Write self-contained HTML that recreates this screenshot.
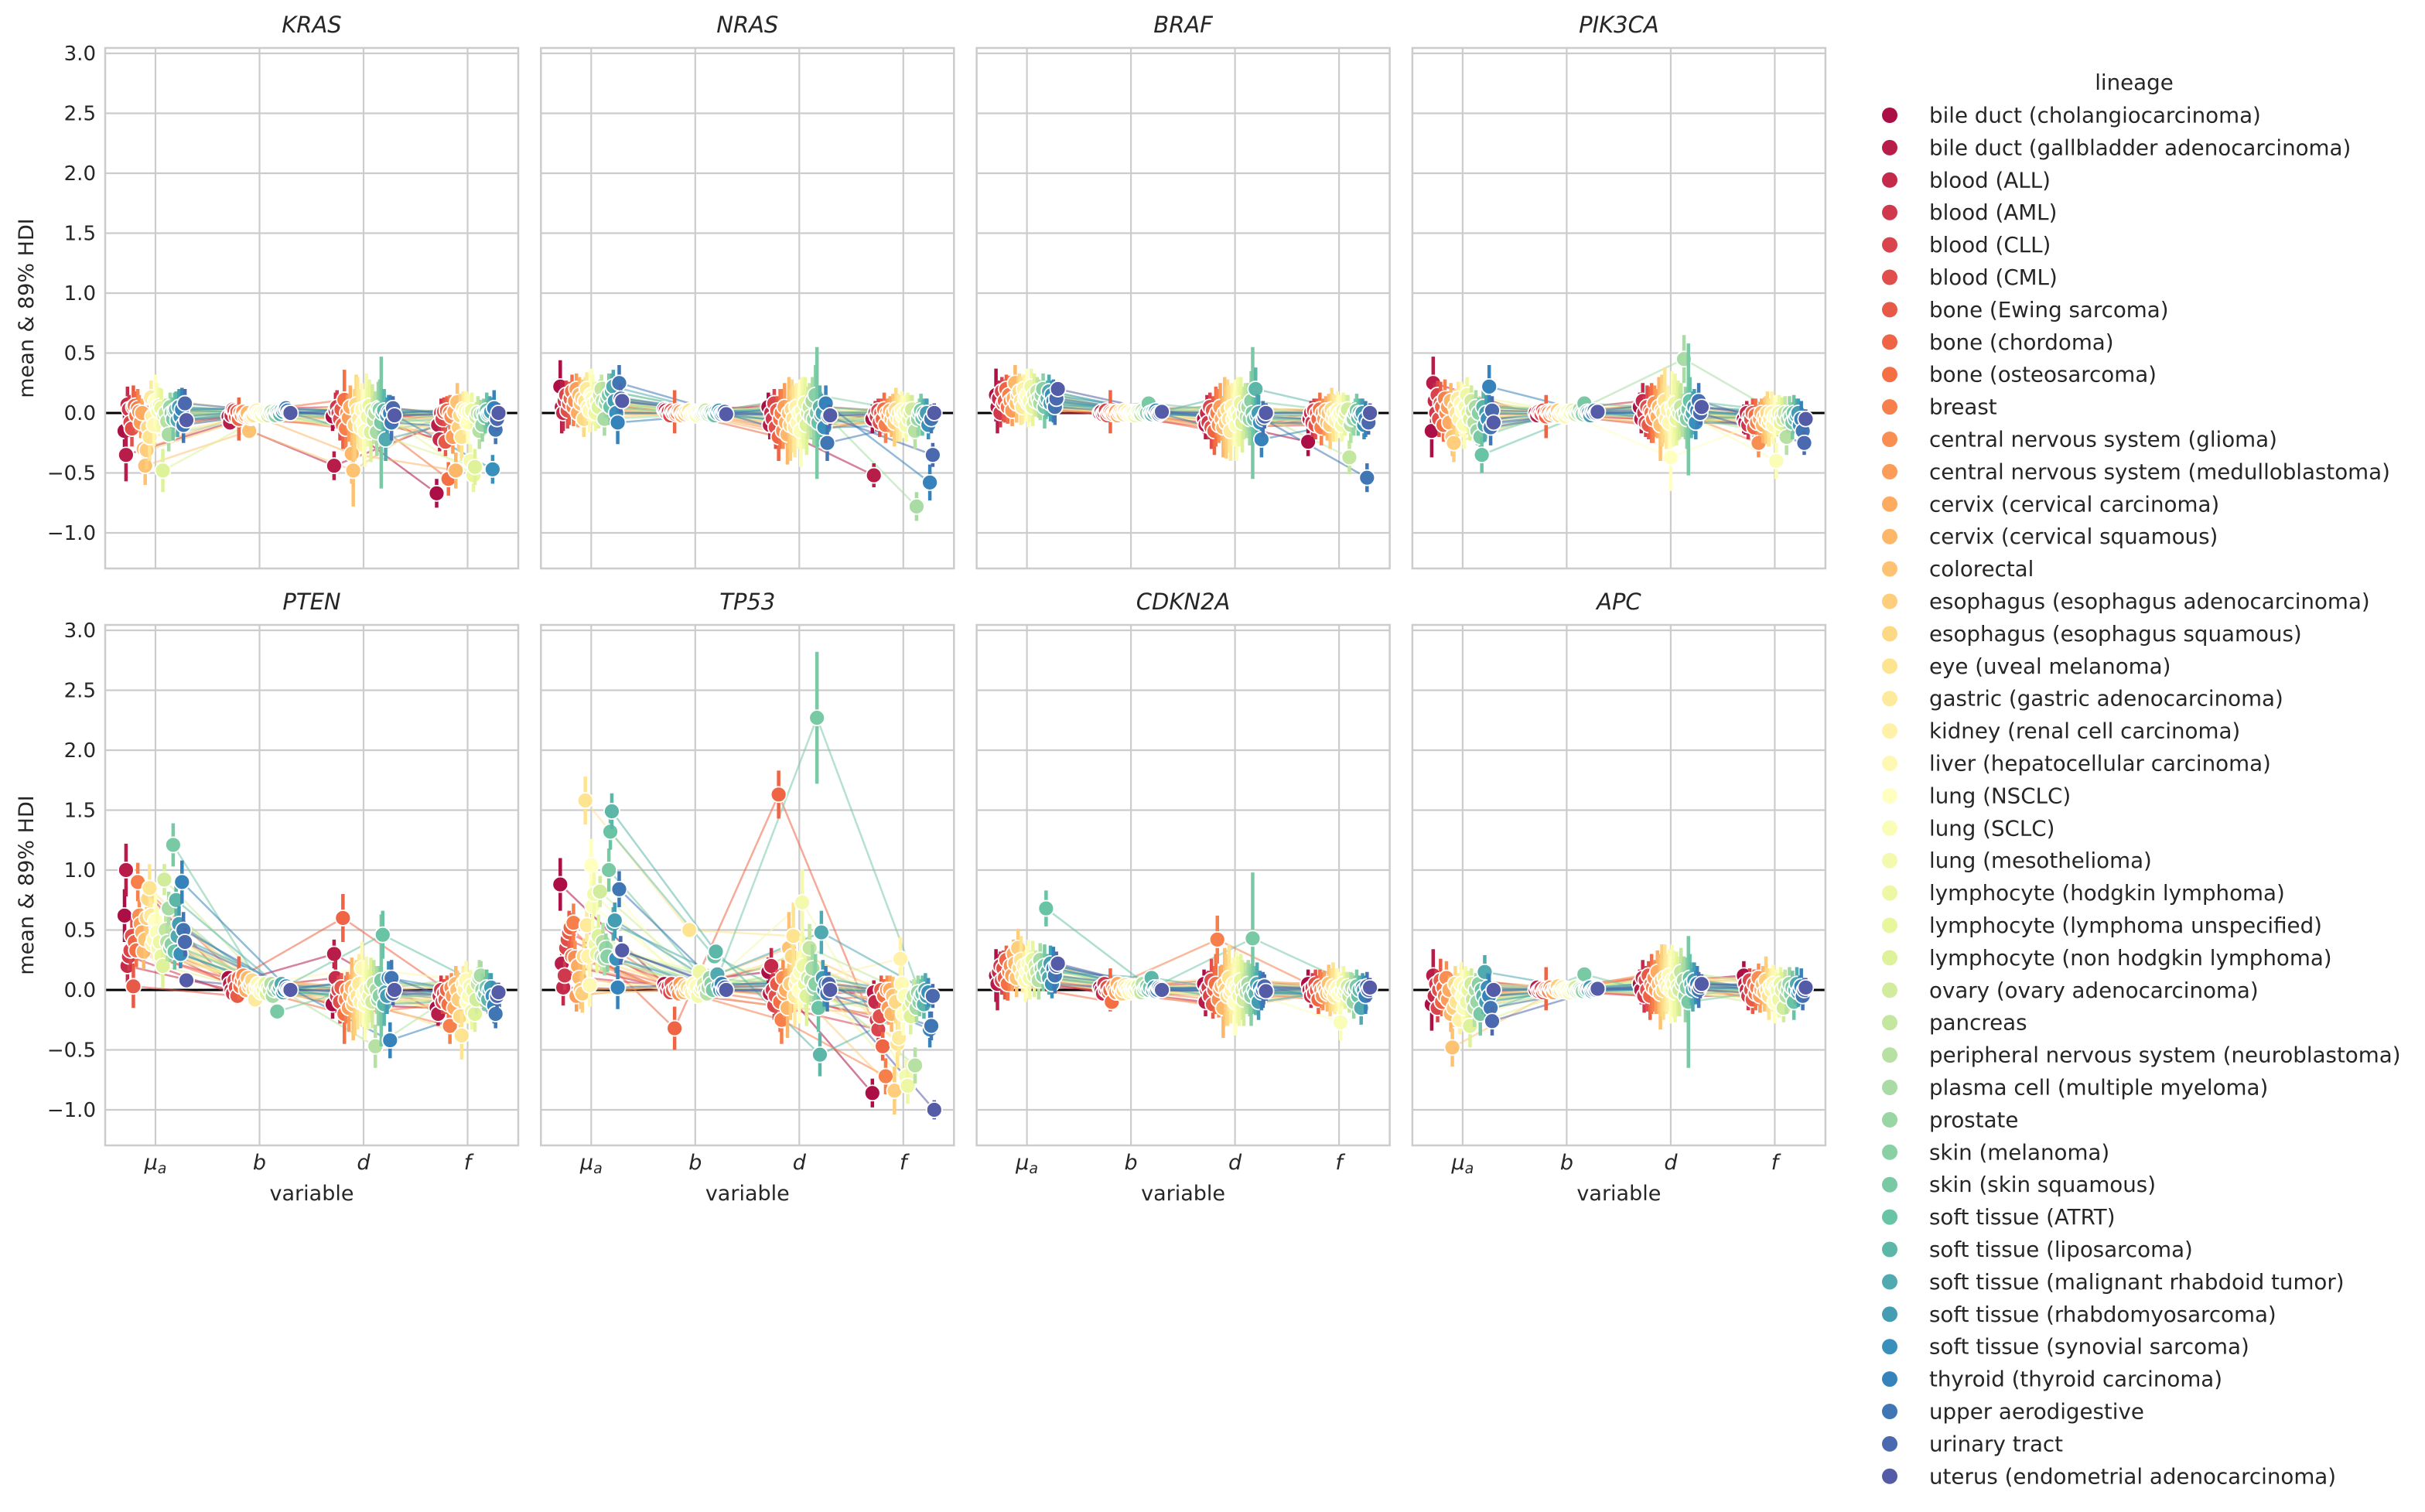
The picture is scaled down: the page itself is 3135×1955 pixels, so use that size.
<!DOCTYPE html>
<html><head><meta charset="utf-8">
<style>
html,body{margin:0;padding:0;background:#fff;}
svg{display:block;font-family:"DejaVu Sans","Liberation Sans",sans-serif;}
</style></head>
<body>
<svg id="chart" width="3135" height="1955" viewBox="0 0 3135 1955" xmlns="http://www.w3.org/2000/svg">
<rect x="0" y="0" width="3135" height="1955" fill="#ffffff"/>
<g id="panels"></g>
<g id="legend"></g>
</svg>
<script>
const genes = ["KRAS","NRAS","BRAF","PIK3CA","PTEN","TP53","CDKN2A","APC"];
const variables = ["mu_a","b","d","f"];
const yTicks = [-1.0,-0.5,0.0,0.5,1.0,1.5,2.0,2.5,3.0];
const yTickLabels = ["\u22121.0","\u22120.5","0.0","0.5","1.0","1.5","2.0","2.5","3.0"];
const lineages = ["bile duct (cholangiocarcinoma)","bile duct (gallbladder adenocarcinoma)","blood (ALL)","blood (AML)","blood (CLL)","blood (CML)","bone (Ewing sarcoma)","bone (chordoma)","bone (osteosarcoma)","breast","central nervous system (glioma)","central nervous system (medulloblastoma)","cervix (cervical carcinoma)","cervix (cervical squamous)","colorectal","esophagus (esophagus adenocarcinoma)","esophagus (esophagus squamous)","eye (uveal melanoma)","gastric (gastric adenocarcinoma)","kidney (renal cell carcinoma)","liver (hepatocellular carcinoma)","lung (NSCLC)","lung (SCLC)","lung (mesothelioma)","lymphocyte (hodgkin lymphoma)","lymphocyte (lymphoma unspecified)","lymphocyte (non hodgkin lymphoma)","ovary (ovary adenocarcinoma)","pancreas","peripheral nervous system (neuroblastoma)","plasma cell (multiple myeloma)","prostate","skin (melanoma)","skin (skin squamous)","soft tissue (ATRT)","soft tissue (liposarcoma)","soft tissue (malignant rhabdoid tumor)","soft tissue (rhabdomyosarcoma)","soft tissue (synovial sarcoma)","thyroid (thyroid carcinoma)","upper aerodigestive","urinary tract","uterus (endometrial adenocarcinoma)"];

const KRAS_mu=[-0.15,-0.35,0.07,0.03,-0.08,-0.13,0.05,0.06,-0.02,0.04,0.01,-0.08,0.00,-0.30,-0.44,-0.31,-0.12,-0.20,0.13,-0.03,-0.10,0.10,0.05,0.02,0.06,0.04,-0.48,-0.02,0.00,-0.07,-0.18,0.05,0.00,-0.05,0.02,0.03,-0.06,0.05,-0.03,0.03,-0.10,0.08,-0.06];
const KRAS_b=[-0.03,-0.08,-0.02,0.03,0.02,-0.03,0.01,-0.05,0.00,-0.02,0.01,-0.03,-0.02,0.00,-0.15,-0.04,-0.03,-0.02,0.01,0.02,0.00,-0.01,0.00,-0.02,0.01,0.00,-0.01,-0.02,0.00,0.01,-0.01,0.00,-0.02,0.01,0.00,-0.01,0.02,0.01,0.03,0.04,0.02,0.00,0.00];
const KRAS_d=[-0.03,-0.44,0.02,0.05,0.00,-0.05,0.03,-0.10,0.11,-0.13,0.00,-0.04,0.05,-0.34,-0.48,-0.10,0.07,0.02,-0.05,-0.12,0.03,-0.08,-0.15,0.05,-0.03,0.06,-0.16,0.02,-0.06,0.00,-0.16,0.04,0.03,-0.08,0.00,0.02,-0.22,-0.02,0.01,0.00,-0.08,0.04,-0.02];
const KRAS_f=[-0.67,-0.10,-0.22,0.00,-0.05,0.01,-0.24,0.02,-0.55,0.00,-0.03,-0.20,0.01,-0.48,0.09,-0.12,-0.02,-0.20,0.03,0.00,0.02,-0.08,0.01,-0.40,0.02,-0.52,-0.45,-0.03,0.00,-0.15,-0.01,-0.10,0.00,-0.03,0.02,-0.01,0.00,0.01,-0.47,0.04,-0.14,-0.05,0.00];

const NRAS_mu=[0.22,0.05,0.00,0.10,0.15,0.02,0.08,0.12,0.18,0.05,0.10,0.20,0.00,0.15,0.08,0.12,-0.05,0.10,0.20,0.05,0.02,0.15,0.12,0.08,0.00,0.10,0.05,0.15,0.20,0.10,-0.05,0.08,0.12,0.15,0.05,0.18,0.22,0.10,0.00,-0.08,0.25,0.12,0.10];
const NRAS_b=[0.03,0.02,0.00,0.01,-0.02,0.02,0.00,0.01,-0.01,0.00,0.02,0.01,-0.02,0.00,-0.01,0.01,0.00,0.02,-0.01,0.00,0.01,0.00,-0.02,0.01,0.00,-0.01,0.00,0.01,0.02,0.00,-0.01,0.00,0.01,0.00,-0.02,0.01,0.00,0.02,0.00,-0.01,0.00,0.01,-0.01];
const NRAS_d=[0.05,-0.10,0.00,-0.05,0.08,-0.12,0.02,-0.20,-0.05,0.00,-0.15,0.05,-0.08,-0.18,0.00,-0.10,0.03,-0.05,-0.12,0.05,-0.08,0.00,-0.15,0.02,-0.05,0.08,-0.10,0.00,0.05,-0.03,0.10,-0.05,0.15,0.00,-0.08,0.05,-0.02,0.00,-0.12,0.08,-0.25,-0.03,-0.02];
const NRAS_f=[-0.05,-0.52,0.00,-0.03,0.02,-0.08,0.00,-0.05,0.03,-0.10,0.00,-0.02,0.02,-0.05,0.00,-0.08,0.03,-0.04,0.00,-0.06,0.02,-0.03,0.00,-0.10,0.02,-0.05,0.00,0.03,-0.08,-0.15,-0.78,-0.05,0.00,0.02,-0.04,0.00,-0.02,0.00,-0.10,-0.58,-0.05,-0.35,0.00];

const BRAF_mu=[0.15,0.05,0.12,0.00,0.18,0.08,0.10,0.20,0.05,0.15,0.10,0.02,0.12,0.25,0.08,0.15,0.18,0.10,0.05,0.20,0.12,0.15,0.08,0.10,0.22,0.05,0.15,0.10,0.18,0.12,0.08,0.15,0.20,0.05,0.10,0.12,0.18,0.08,0.15,0.10,0.05,0.12,0.20];
const BRAF_b=[0.00,0.01,-0.01,0.00,0.02,-0.02,0.00,0.01,0.00,-0.01,0.00,0.01,-0.02,0.00,0.01,0.00,-0.01,0.02,0.00,0.01,-0.01,0.00,0.01,0.00,-0.02,0.00,0.01,0.00,-0.01,0.02,0.00,0.01,0.00,0.08,0.00,-0.01,0.01,0.00,0.02,0.00,-0.01,0.00,0.01];
const BRAF_d=[-0.05,-0.10,0.00,-0.08,0.05,-0.12,0.02,-0.15,-0.03,0.00,-0.10,0.05,-0.05,-0.12,0.00,-0.08,0.03,-0.05,-0.15,0.05,-0.05,0.00,-0.10,0.02,-0.03,0.08,-0.08,0.00,0.05,-0.03,0.05,-0.05,0.10,0.00,-0.05,0.20,-0.02,0.00,-0.08,-0.22,-0.05,-0.03,0.00];
const BRAF_f=[-0.24,-0.05,0.00,-0.08,0.02,-0.10,0.00,-0.05,0.03,-0.12,0.00,-0.05,0.02,-0.08,0.00,-0.10,0.03,-0.04,0.00,-0.06,0.02,-0.03,0.00,-0.10,0.02,-0.05,0.00,0.03,-0.37,-0.10,-0.05,-0.05,0.00,0.02,-0.04,0.00,-0.02,0.00,-0.10,-0.05,-0.54,-0.08,0.00];

const PIK3CA_mu=[-0.15,0.25,0.10,0.00,0.15,-0.05,0.08,0.05,-0.10,0.12,0.00,0.05,-0.08,0.10,-0.20,-0.25,0.05,0.00,0.12,-0.05,0.08,0.02,-0.10,0.05,0.15,0.00,-0.05,0.10,0.02,-0.08,0.05,-0.15,0.00,-0.20,-0.35,0.05,-0.10,0.00,-0.05,0.22,-0.12,0.02,-0.08];
const PIK3CA_b=[0.00,-0.02,0.01,0.00,-0.01,0.02,0.00,-0.03,0.01,0.00,-0.02,0.00,0.01,-0.01,0.00,0.02,-0.02,0.00,0.01,0.00,-0.03,0.00,0.01,-0.01,0.00,0.02,0.00,-0.01,0.01,0.00,0.03,0.00,-0.01,0.08,0.00,0.01,0.00,-0.02,0.01,0.00,0.02,0.00,0.01];
const PIK3CA_d=[0.05,-0.05,0.10,0.00,-0.08,0.05,-0.10,0.02,0.00,-0.05,0.08,0.00,-0.03,0.05,-0.10,0.02,0.00,0.10,-0.05,0.03,-0.08,-0.37,0.05,0.00,0.08,-0.05,0.02,0.00,0.05,-0.02,0.45,0.00,-0.05,0.03,0.10,-0.03,0.00,0.05,-0.08,0.02,0.10,0.00,0.05];
const PIK3CA_f=[-0.05,-0.08,0.00,-0.10,-0.03,-0.05,0.00,-0.12,-0.02,-0.08,-0.25,-0.05,0.00,-0.10,-0.03,-0.06,0.00,-0.08,-0.05,0.00,-0.10,-0.03,-0.40,-0.05,0.00,-0.08,-0.02,-0.05,0.00,-0.20,-0.05,0.00,-0.03,-0.08,0.00,-0.05,-0.02,0.00,-0.10,-0.05,-0.15,-0.25,-0.05];

const PTEN_mu=[0.62,1.00,0.20,0.28,0.33,0.45,0.03,0.40,0.33,0.90,0.62,0.55,0.48,0.32,0.42,0.60,0.76,0.85,0.62,0.38,0.42,0.58,0.48,0.35,0.40,0.28,0.20,0.92,0.50,0.40,0.68,0.35,0.38,1.21,0.32,0.75,0.45,0.55,0.30,0.90,0.50,0.40,0.08];
const PTEN_b=[0.10,0.05,0.00,-0.03,0.08,0.02,-0.05,0.10,0.03,0.08,0.12,0.05,0.00,0.10,0.03,0.05,0.08,0.00,-0.08,0.02,0.05,0.00,-0.02,0.03,0.00,0.05,-0.03,0.02,0.00,0.05,-0.05,0.00,0.03,-0.18,0.00,0.02,0.05,-0.02,0.00,0.03,0.01,0.00,0.00];
const PTEN_d=[-0.12,0.30,0.10,-0.05,0.00,-0.10,0.02,0.60,-0.20,-0.08,0.00,-0.15,-0.05,0.02,-0.12,-0.08,0.00,-0.05,0.05,-0.10,0.18,-0.03,-0.12,0.00,-0.08,-0.05,0.02,-0.10,0.05,-0.47,0.00,-0.08,-0.05,0.08,0.46,-0.12,-0.02,-0.05,0.10,-0.42,0.10,-0.03,0.00];
const PTEN_f=[-0.15,-0.20,-0.05,0.00,-0.10,-0.03,-0.08,0.00,-0.12,-0.30,0.02,-0.05,-0.15,0.05,0.00,-0.08,-0.22,-0.38,0.05,0.00,0.08,-0.10,-0.05,0.03,-0.18,0.00,-0.20,-0.08,0.05,0.10,0.12,0.00,-0.05,-0.03,0.02,-0.08,0.00,0.02,-0.05,-0.13,-0.20,-0.05,-0.02];

const TP53_mu=[0.88,0.22,0.02,0.12,0.35,0.42,0.48,0.52,0.28,0.56,0.27,-0.05,0.20,0.10,0.00,-0.03,0.28,1.58,0.54,0.28,0.04,1.04,0.70,0.80,0.38,0.30,0.45,0.82,0.28,0.40,0.26,0.35,0.28,1.00,1.32,1.49,0.55,0.58,0.26,0.02,0.84,0.33,0.33];
const TP53_b=[0.05,0.02,0.00,0.03,-0.02,0.05,0.00,-0.32,0.02,0.00,-0.03,0.05,0.00,-0.02,0.03,0.00,0.02,0.50,0.00,-0.02,0.05,0.00,0.03,-0.05,0.15,0.00,0.02,0.05,0.00,-0.03,0.02,0.10,0.05,0.00,0.28,0.32,0.13,0.03,0.00,0.05,0.00,0.02,0.00];
const TP53_d=[0.15,-0.03,0.20,0.00,-0.13,-0.05,0.05,1.63,-0.10,-0.25,0.10,-0.03,0.00,-0.15,0.35,0.05,0.28,0.45,-0.05,0.05,0.10,0.00,0.15,0.73,0.20,0.05,-0.05,0.10,0.35,0.08,0.18,0.02,0.05,2.27,-0.15,-0.54,0.48,0.10,0.00,0.05,-0.03,0.05,0.00];
const TP53_f=[-0.86,-0.02,-0.10,-0.25,-0.33,-0.22,0.00,-0.47,-0.05,-0.72,0.00,-0.15,0.00,-0.20,-0.05,-0.84,-0.10,-0.45,-0.40,0.26,0.05,-0.20,-0.05,-0.72,-0.80,-0.15,-0.22,-0.10,-0.05,-0.63,-0.15,-0.02,-0.10,-0.05,-0.03,-0.12,0.00,-0.05,-0.02,-0.33,-0.30,-0.05,-1.00];

const CDKN2A_mu=[0.12,0.05,0.15,0.20,0.08,0.18,0.10,0.25,0.05,0.15,0.20,0.12,0.30,0.22,0.10,0.35,0.18,0.25,0.12,0.20,0.08,0.15,0.22,0.10,0.18,0.25,0.12,0.20,0.15,0.08,0.25,0.18,0.12,0.20,0.68,0.15,0.10,0.22,0.05,0.18,0.12,0.20,0.22];
const CDKN2A_b=[0.02,0.00,-0.03,0.05,0.00,0.02,-0.02,0.00,-0.10,0.03,0.00,-0.02,0.05,0.00,0.02,-0.03,0.00,0.04,0.02,0.00,-0.02,0.03,0.00,0.02,-0.01,0.00,0.03,0.00,-0.02,0.05,0.00,0.02,0.03,0.00,0.02,0.10,0.00,0.02,-0.01,0.00,0.02,0.01,0.00];
const CDKN2A_d=[0.05,-0.10,0.00,0.02,-0.05,0.08,-0.12,0.00,0.05,0.42,-0.08,0.00,0.03,-0.15,0.05,0.00,-0.05,0.10,-0.03,0.00,0.05,-0.10,0.02,0.00,-0.05,0.08,0.00,-0.08,0.03,-0.02,0.05,0.00,-0.05,0.43,0.00,-0.03,0.05,-0.10,0.02,-0.02,0.00,0.03,-0.01];
const CDKN2A_f=[0.05,0.00,-0.05,0.02,-0.03,0.05,0.00,-0.08,0.03,0.00,-0.05,0.02,0.00,-0.03,0.05,-0.02,0.00,0.03,-0.05,0.00,0.02,-0.03,-0.27,0.00,0.05,-0.02,0.00,0.03,-0.05,0.00,0.02,-0.10,0.00,0.03,-0.05,0.00,-0.15,0.02,0.00,-0.05,0.03,0.00,0.02];

const APC_mu=[-0.12,0.12,-0.05,0.05,-0.15,0.00,0.08,-0.10,0.02,-0.05,0.10,-0.08,0.00,-0.20,-0.48,-0.15,0.05,-0.10,0.00,-0.25,0.05,-0.05,-0.15,0.02,-0.10,0.00,-0.30,0.05,-0.08,-0.15,0.00,-0.10,0.05,-0.20,0.00,-0.05,0.15,-0.10,0.02,-0.05,-0.15,-0.26,0.00];
const APC_b=[0.00,0.02,-0.01,0.00,0.01,-0.02,0.00,0.01,0.00,-0.01,0.02,0.00,-0.02,0.01,0.00,0.03,-0.01,0.00,0.02,0.00,-0.01,0.01,0.00,-0.02,0.00,0.01,0.00,0.02,-0.01,0.00,0.01,0.00,-0.01,0.13,0.00,0.01,0.00,0.02,-0.01,0.00,0.01,0.00,0.01];
const APC_d=[0.05,0.00,0.10,-0.05,0.08,0.00,0.12,-0.05,0.05,0.02,0.10,0.00,0.15,0.05,-0.03,0.08,0.00,0.10,0.05,0.02,0.12,0.00,0.08,0.05,-0.02,0.10,0.03,0.00,0.15,0.05,0.08,-0.05,0.02,-0.10,0.10,0.05,0.00,0.08,0.02,0.05,0.00,0.03,0.05];
const APC_f=[0.12,0.05,0.00,-0.05,0.08,0.00,-0.08,0.05,-0.03,0.02,0.10,-0.05,0.00,0.05,-0.02,0.08,0.00,-0.05,0.03,0.00,0.05,-0.10,0.02,0.00,-0.08,0.05,0.00,-0.15,0.03,-0.05,0.00,0.05,-0.03,0.02,-0.10,0.00,0.05,-0.02,0.00,0.03,-0.05,0.00,0.02];

const errMu=[0.22,0.22,0.15,0.12,0.12,0.15,0.18,0.12,0.14,0.16,0.14,0.13,0.12,0.15,0.16,0.16,0.15,0.20,0.14,0.12,0.18,0.22,0.20,0.18,0.15,0.16,0.18,0.13,0.12,0.16,0.14,0.12,0.13,0.18,0.15,0.15,0.14,0.15,0.12,0.18,0.15,0.12,0.06];
const errB=[0.06,0.05,0.04,0.05,0.04,0.05,0.06,0.18,0.05,0.04,0.05,0.04,0.03,0.04,0.05,0.04,0.04,0.06,0.04,0.03,0.04,0.05,0.04,0.04,0.05,0.04,0.03,0.04,0.05,0.04,0.04,0.05,0.04,0.06,0.05,0.05,0.04,0.04,0.03,0.04,0.03,0.03,0.03];
const errD=[0.12,0.12,0.15,0.14,0.12,0.18,0.12,0.20,0.25,0.20,0.15,0.20,0.18,0.25,0.30,0.30,0.25,0.28,0.25,0.20,0.22,0.28,0.30,0.28,0.25,0.22,0.25,0.22,0.20,0.18,0.20,0.22,0.25,0.55,0.20,0.18,0.18,0.15,0.14,0.15,0.15,0.10,0.08];
const errF=[0.12,0.10,0.10,0.12,0.10,0.12,0.12,0.12,0.14,0.15,0.12,0.14,0.12,0.15,0.16,0.20,0.18,0.20,0.15,0.18,0.16,0.18,0.15,0.14,0.15,0.14,0.15,0.12,0.14,0.15,0.12,0.14,0.12,0.14,0.15,0.12,0.14,0.12,0.12,0.15,0.12,0.10,0.08];

const geneSeries = [
  [KRAS_mu,KRAS_b,KRAS_d,KRAS_f],[NRAS_mu,NRAS_b,NRAS_d,NRAS_f],
  [BRAF_mu,BRAF_b,BRAF_d,BRAF_f],[PIK3CA_mu,PIK3CA_b,PIK3CA_d,PIK3CA_f],
  [PTEN_mu,PTEN_b,PTEN_d,PTEN_f],[TP53_mu,TP53_b,TP53_d,TP53_f],
  [CDKN2A_mu,CDKN2A_b,CDKN2A_d,CDKN2A_f],[APC_mu,APC_b,APC_d,APC_f]];
const errSeries = [errMu,errB,errD,errF];

const NS="http://www.w3.org/2000/svg";
function mk(tag, attrs, parent){const e=document.createElementNS(NS,tag);for(const k in attrs)e.setAttribute(k,attrs[k]);if(parent)parent.appendChild(e);return e;}

const spec=["#9e0142","#d53e4f","#f46d43","#fdae61","#fee08b","#ffffbf","#e6f598","#abdda4","#66c2a5","#3288bd","#5e4fa2"];
function hex(h){return [parseInt(h.slice(1,3),16),parseInt(h.slice(3,5),16),parseInt(h.slice(5,7),16)];}
function cmap(t){const s=t*10;const i=Math.min(9,Math.floor(s));const f=s-i;const a=hex(spec[i]),b=hex(spec[i+1]);
  return "rgb("+a.map((v,k)=>Math.round(v+(b[k]-v)*f)).join(",")+")";}
const nL=lineages.length;
const colors=lineages.map((_,i)=>cmap((i+1)/(nL+1)));

const PW=534, PH_TOP=[62,808], PH=673;
const colLeft=c=>136+c*563.3;
const yMin=-1.297, yMax=3.045;
function yScale(v,row){return PH_TOP[row]+ (yMax-v)/(yMax-yMin)*PH;}
function xCat(j,col){return colLeft(col)+65+j*134.5;}
function dodge(i){return -40+i*80/(nL-1);}

const panels=document.getElementById('panels');
genes.forEach((g,gi)=>{
  const row=Math.floor(gi/4), col=gi%4;
  const L=colLeft(col), T=PH_TOP[row];
  const pg=mk('g',{},panels);
  
  
  yTicks.forEach((v,k)=>{
    const y=yScale(v,row);
    const gl=mk('line',{x1:L,x2:L+PW,y1:y,y2:y,stroke:'#cccccc','stroke-width':2.2},pg);
    
    
    if(col===0){
      const t=mk('text',{x:L-12,y:y+9,'text-anchor':'end','font-size':26,fill:'#262626'},pg);
      t.textContent=yTickLabels[k];
      
      
    }
  });
  variables.forEach((v,j)=>{
    const x=xCat(j,col);
    const gl=mk('line',{x1:x,x2:x,y1:T,y2:T+PH,stroke:'#cccccc','stroke-width':2.2},pg);
    
    
    if(row===1){
      const t=mk('text',{x:x,y:1512,'text-anchor':'middle','font-size':27,'font-style':'italic',fill:'#262626'},pg);
      if(v==='mu_a'){t.textContent='\u03bc';const s=mk('tspan',{'font-size':19,dy:5},t);s.textContent='a';}
      else t.textContent=v;
      
      
    }
  });
  const zl=mk('line',{x1:L,x2:L+PW,y1:yScale(0,row),y2:yScale(0,row),stroke:'#000',"stroke-width":3},pg);
  
  
  const fr=mk('rect',{x:L,y:T,width:PW,height:PH,fill:'none',stroke:'#cccccc','stroke-width':2.5},pg);
  
  
  const tt=mk('text',{x:L+PW/2,y:T-20,'text-anchor':'middle','font-size':29,'font-style':'italic',fill:'#262626'},pg);
  tt.textContent=g;
  
  
  if(row===1){
    const xl=mk('text',{x:L+PW/2,y:1552,'text-anchor':'middle','font-size':27,fill:'#262626'},pg);
    xl.textContent='variable';
    
    
  }
  if(col===0){
    const cy=T+PH/2;
    const yl=mk('text',{x:0,y:0,'text-anchor':'middle','font-size':27,fill:'#262626',transform:'translate(43,'+cy+') rotate(-90)'},pg);
    yl.textContent='mean & 89% HDI';
    
    
  }
  const ser=geneSeries[gi];
  for(let i=0;i<nL;i++){
    const pts=[];
    for(let j=0;j<4;j++){const v=ser[j][i];if(v===undefined)continue;pts.push((xCat(j,col)+dodge(i)).toFixed(1)+','+yScale(v,row).toFixed(1));}
    const pl=mk('polyline',{points:pts.join(' '),fill:'none',stroke:colors[i],'stroke-opacity':0.55,'stroke-width':2.5},pg);
    
    
  }
  for(let i=0;i<nL;i++){
    for(let j=0;j<4;j++){
      const v=ser[j][i];if(v===undefined)continue;
      const e=errSeries[j][i]||0.1;
      const x=xCat(j,col)+dodge(i);
      const eb=mk('line',{x1:x,x2:x,y1:yScale(v-e,row),y2:yScale(v+e,row),stroke:colors[i],'stroke-width':4.5},pg);
      
      
      const c=mk('circle',{cx:x,cy:yScale(v,row),r:10,fill:colors[i],stroke:'#ffffff','stroke-width':1.8},pg);
      
      
    }
  }
});

const lg=document.getElementById('legend');
const lt=mk('text',{x:2759,y:116,'text-anchor':'middle','font-size':27.7,fill:'#262626'},lg);
lt.textContent='lineage';


lineages.forEach((n,i)=>{
  const y=149+i*41.9;
  const eg=mk('g',{},lg);
  
  
  const c=mk('circle',{cx:2443,cy:y,r:10,fill:colors[i]},eg);
  
  
  const t=mk('text',{x:2494,y:y+9.5,'font-size':27.7,fill:'#262626'},eg);
  t.textContent=n;
  
  
});
</script>
</body></html>
